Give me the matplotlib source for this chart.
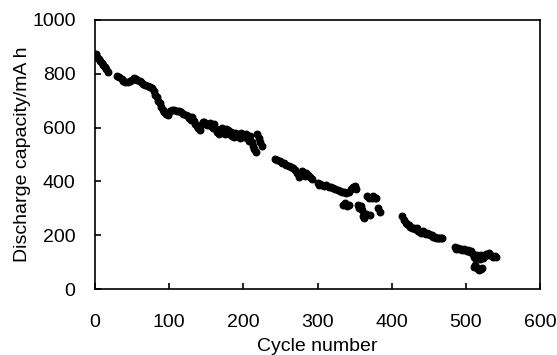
import matplotlib
matplotlib.use('Agg')
import matplotlib.pyplot as plt

plt.rcParams['font.family'] = ['Liberation Sans', 'DejaVu Sans']

# cycle number / discharge capacity (mA h)
cycle = [1, 3, 5, 7, 9, 11, 13, 15, 17,
         30, 33, 36, 38, 41, 44, 47, 50, 53, 55, 57, 60, 62, 65, 68, 71, 74, 77, 79,
         81, 83, 85, 87, 89, 91, 93, 96, 99, 101, 104, 107, 110, 113, 116, 119, 122,
         125, 127, 129, 131, 133, 135, 137, 139, 141, 143, 145, 147, 149, 151, 153,
         155, 157, 159, 161, 163, 165, 167, 169, 171, 173, 175, 177, 179, 181, 183,
         185, 187, 189, 191, 193, 195, 197, 199, 201, 203, 205, 207, 209, 211, 213,
         215, 217, 219, 221, 223, 225,
         243, 246, 249, 252, 255, 258, 261, 264, 267, 270, 273, 275, 277, 279, 281,
         283, 285, 287, 290, 292,
         300, 302, 304, 306, 309, 312, 315, 318, 321, 324, 327, 330, 333, 336, 339,
         342, 345, 348, 350, 352, 334, 337, 340, 343, 354, 356, 358, 360, 361, 363,
         365, 367, 369, 371, 373, 375, 377, 379, 382, 384,
         414, 417, 419, 421, 423, 425, 428, 430, 432, 434, 436, 438, 440, 442, 444,
         446, 448, 450, 452, 454, 456, 458, 460, 462, 464, 466, 468,
         485, 487, 489, 491, 493, 495, 497, 499, 501, 503, 505, 507, 509, 511, 513,
         515, 517, 519, 521, 523, 525, 527, 529, 531, 533, 535, 537, 539, 541,
         511, 512, 514, 516, 518, 520, 522]
capacity = [872, 864, 856, 848, 840, 832, 824, 816, 808,
            792, 788, 780, 772, 768, 770, 772, 778, 785, 782, 778, 772, 768, 762, 758,
            755, 750, 746, 735, 722, 712, 700, 690, 675, 665, 658, 650, 645, 660, 665,
            665, 662, 660, 657, 650, 648, 643, 635, 628, 640, 625, 615, 605, 598, 590,
            610, 620, 622, 615, 608, 612, 618, 605, 600, 612, 595, 585, 578, 590, 600,
            582, 575, 595, 590, 578, 585, 570, 565, 580, 575, 568, 560, 580, 572, 566,
            575, 560, 552, 570, 545, 530, 520, 510, 575, 560, 545, 530,
            483, 478, 475, 470, 468, 462, 458, 452, 448, 442, 432, 418, 425, 440, 435,
            420, 430, 425, 415, 410,
            395, 388, 392, 385, 382, 386, 380, 378, 375, 372, 368, 365, 360, 362, 358,
            362, 370, 378, 382, 370, 312, 320, 310, 312, 312, 300, 310, 295, 270, 265,
            280, 345, 340, 275, 340, 345, 338, 340, 300, 285,
            272, 255, 245, 240, 238, 232, 228, 225, 222, 225, 215, 212, 210, 215, 210,
            205, 208, 205, 200, 202, 195, 192, 190, 190, 188, 190, 190,
            155, 150, 152, 148, 150, 145, 148, 145, 140, 145, 138, 140, 130, 120, 115,
            125, 120, 110, 125, 115, 120, 130, 128, 135, 128, 122, 120, 122, 118,
            80, 88, 80, 75, 72, 75, 78]

fig = plt.figure(figsize=(5.57, 3.55), dpi=100)
ax = fig.add_axes([0.1706, 0.1859, 0.7989, 0.7578])

ax.scatter(cycle, capacity, s=22, color='black', zorder=3)

ax.set_xlim(0, 600)
ax.set_ylim(0, 1000)
ax.set_xticks([0, 100, 200, 300, 400, 500, 600])
ax.set_yticks([0, 200, 400, 600, 800, 1000])
ax.tick_params(axis='x', direction='in', length=4.5, width=1.2, pad=18, labelsize=14)
ax.tick_params(axis='y', direction='in', length=4.5, width=1.2, pad=14, labelsize=14)
for s in ax.spines.values():
    s.set_linewidth(1.2)

ax.set_xlabel('Cycle number', fontsize=14, labelpad=5)
ax.set_ylabel('Discharge capacity/mA h', fontsize=14, labelpad=1)

fig.savefig('out.png', dpi=100)
